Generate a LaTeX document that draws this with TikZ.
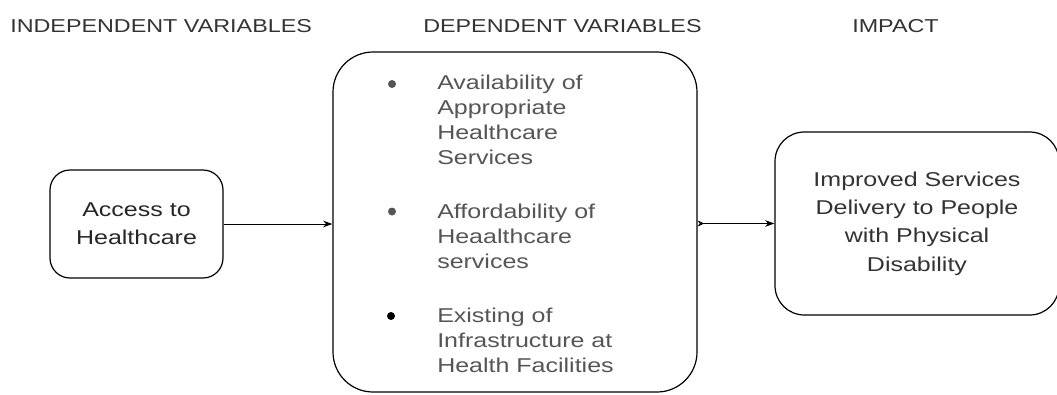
\documentclass[tikz,border=0pt]{standalone}
\usepackage{fontspec}
\setmainfont[FakeStretch=1.25]{Liberation Sans}
\usetikzlibrary{arrows.meta,positioning}
\definecolor{headgray}{HTML}{333333}
\definecolor{itemgray}{HTML}{555555}
\begin{document}
\begin{tikzpicture}[x=0.75pt,y=-0.75pt,>={Stealth[length=7pt,width=5pt]},
    box/.style={draw=black,line width=0.9pt,align=center,inner sep=0pt,font=\fontsize{15}{20.5}\selectfont},
    heading/.style={anchor=base west,inner sep=0pt,text=headgray,font=\fontsize{14}{16}\selectfont},
    item/.style={anchor=north west,align=left,inner sep=0pt,text=itemgray,font=\fontsize{15}{18.75}\selectfont},
    dot/.style={circle,fill=#1,minimum size=6pt,inner sep=0pt}]
        \useasboundingbox (0,0) rectangle (1057,394);
        % column titles
        \node[heading] (indep) at (10,32) {INDEPENDENT VARIABLES};
        \node[heading] (dep) at (423,32) {DEPENDENT VARIABLES};
        \node[heading] (imp) at (852,32) {IMPACT};
        % boxes
        \node[box,rounded corners=15pt,minimum width=129.75pt,minimum height=81pt,text=black!85,
              font=\fontsize{15}{21}\selectfont] (access) at (136.5,224) {Access to\\Healthcare};
        \node[box,rounded corners=30pt,minimum width=273pt,minimum height=255pt] (factors) at (515,222) {};
        \node[box,rounded corners=22pt,minimum width=213pt,minimum height=137.25pt,text=headgray,
              font=\fontsize{15}{21.2}\selectfont] (impact) at (917,223.5) {Improved Services\\Delivery to People\\with Physical\\Disability};
        % list inside the middle box
        \node[dot=itemgray] (b1) at (392,84) {};
        \node[dot=itemgray] (b2) at (392,211.5) {};
        \node[dot=black] (b3) at (391,316) {};
        \node[item] (avail) at (437,74.4) {Availability of\\Appropriate\\Healthcare\\Services};
        \node[item] (afford) at (437,203.4) {Affordability of\\Heaalthcare\\services};
        \node[item] (infra) at (437,307.4) {Existing of\\Infrastructure at\\Health Facilities};
        % connectors
        \draw[line width=0.7pt,->] (access.east) -- (access.east -| factors.west);
        \draw[line width=0.7pt,{Stealth[reversed,length=5pt,width=4.5pt]}->] (factors.east |- impact.west) -- (impact.west);
\end{tikzpicture}
\end{document}
